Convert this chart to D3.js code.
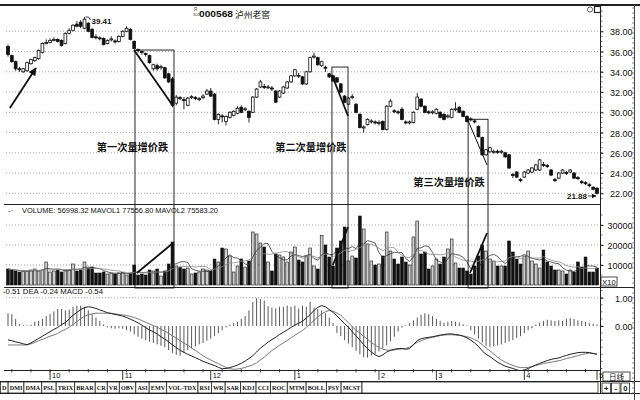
<!DOCTYPE html>
<html><head><meta charset="utf-8">
<script src="https://cdn.jsdelivr.net/npm/d3@7"></script>
<style>html,body{margin:0;padding:0;background:#fff;}svg{display:block;}</style>
</head><body>
<svg id="c" width="640" height="400"></svg>
<script>
// ---------- data ----------
const opens = [36.5,35.6,35.0,34.3,34.0,34.1,34.8,35.1,35.3,35.9,36.8,36.9,37.1,37.2,37.1,36.8,37.8,38.1,38.7,38.9,
38.3,38.8,38.2,37.45,37.35,37.3,36.8,37.15,37.05,37.0,37.5,38.0,38.2,37.0,36.2,36.0,35.8,35.6,34.3,34.6,
34.4,34.4,33.8,33.3,30.9,31.45,31.25,30.7,31.45,31.45,31.25,31.45,31.8,32.1,31.8,29.3,29.65,29.1,29.5,29.7,
29.9,30.5,30.25,30.1,30.0,31.5,32.5,32.55,32.45,32.4,32.1,31.5,31.9,32.4,33.0,33.6,33.65,33.5,32.8,34.0,
35.45,35.4,34.6,34.45,33.8,33.6,33.4,32.8,31.6,30.8,31.45,30.8,29.8,28.45,28.8,29.05,29.05,28.9,29.1,28.3,
30.6,30.15,30.05,30.3,29.05,28.95,29.0,30.3,31.3,30.6,30.05,29.95,29.9,30.0,29.8,29.55,29.5,30.25,30.5,30.1,
29.6,29.35,29.15,28.6,27.5,25.8,26.1,26.05,26.15,26.05,26.0,25.8,23.85,24.1,23.35,23.6,24.0,24.1,24.3,24.3,
24.85,24.75,24.3,23.35,23.5,24.0,24.05,24.1,24.0,23.55,23.15,23.05,22.85,22.6,22.5];
const closes = [35.7,35.0,34.3,34.2,34.3,34.9,35.2,35.4,36.1,36.8,36.9,37.1,37.2,37.0,36.6,37.8,38.1,38.6,38.5,38.5,
39.2,38.0,37.4,37.4,37.3,36.7,37.1,37.25,36.95,37.5,38.0,38.3,37.2,36.3,36.1,35.9,35.7,34.9,34.7,34.3,
34.5,33.4,33.0,30.7,31.5,31.35,31.15,31.4,31.55,31.35,31.35,31.6,32.1,31.6,29.3,29.8,29.55,29.6,30.0,30.1,
30.4,30.0,30.35,29.5,31.5,32.3,33.0,32.45,32.5,32.3,31.0,32.1,32.5,33.0,33.6,34.2,33.6,32.8,34.0,35.4,
35.55,34.7,35.0,34.35,33.5,33.1,33.0,32.0,31.0,31.4,31.55,30.0,28.5,28.55,29.3,29.15,28.95,29.0,28.3,30.6,
31.1,30.05,29.95,29.3,28.95,29.05,30.0,31.5,30.6,30.0,29.95,30.05,30.3,29.5,29.3,29.65,30.3,30.35,30.0,29.6,
29.1,29.25,29.05,27.6,25.8,26.3,26.5,26.15,26.05,26.15,25.6,24.5,23.75,23.6,23.25,24.1,24.3,24.5,24.8,25.3,
24.75,24.65,23.8,23.25,24.0,24.3,23.95,24.3,23.5,23.45,23.05,22.95,22.75,22.4,22.0];
const highs = [36.7,35.7,35.1,34.5,34.4,35.0,35.3,35.5,36.2,36.9,37.2,37.3,37.4,37.3,37.2,37.9,38.3,38.7,39.0,39.1,
39.41,38.9,38.3,37.7,37.5,37.4,37.2,37.5,37.2,37.6,38.1,38.5,38.3,37.1,36.3,36.1,35.9,35.7,34.8,34.8,
34.7,34.5,33.9,33.5,31.7,31.6,31.5,31.5,31.7,31.6,31.5,31.8,32.3,32.4,31.9,29.9,29.8,29.7,30.1,30.2,
30.6,30.7,30.5,30.2,31.6,32.4,33.2,32.8,32.7,32.6,32.2,32.2,32.6,33.1,33.7,34.3,33.9,33.6,34.1,35.5,
35.9,35.5,35.1,34.6,33.9,33.7,33.5,32.9,31.7,31.5,31.8,30.9,29.9,28.7,29.4,29.3,29.2,29.2,29.2,30.7,
31.3,30.3,30.2,30.5,29.2,29.2,30.1,31.9,31.4,30.7,30.2,30.2,30.4,30.1,29.9,29.8,30.4,31.0,30.6,30.2,
29.7,29.5,29.3,28.7,27.6,26.4,26.6,26.3,26.3,26.3,26.1,25.9,24.0,24.2,23.5,24.2,24.4,24.6,24.9,25.4,
25.1,24.9,24.4,23.5,24.1,24.4,24.2,24.4,24.1,23.7,23.3,23.2,23.0,22.7,22.6];
const lows = [35.5,34.9,34.1,34.0,33.9,34.0,34.7,35.0,35.2,35.8,36.7,36.8,37.0,36.9,36.5,36.7,37.7,38.0,38.4,38.3,
38.2,37.9,37.3,37.2,37.1,36.6,36.7,37.0,36.8,36.9,37.4,37.9,37.1,36.2,35.9,35.7,35.5,34.8,34.1,34.1,
34.2,33.3,32.9,30.5,30.7,31.2,30.3,30.6,31.3,31.2,31.1,31.3,31.7,31.5,29.2,28.8,29.0,28.7,29.4,29.6,
29.8,29.9,30.1,29.0,29.9,31.4,32.4,32.3,32.3,32.1,30.9,31.4,31.8,32.3,32.9,33.5,33.4,32.7,32.7,33.9,
35.3,34.6,34.5,34.0,33.4,33.0,32.9,31.9,30.9,30.7,31.3,29.9,28.4,28.0,28.7,28.9,28.8,28.7,28.2,28.2,
30.5,29.9,29.8,29.2,28.8,28.8,28.9,30.2,30.5,29.9,29.8,29.8,29.8,29.4,29.2,29.4,29.4,30.1,29.9,29.5,
29.0,29.1,28.9,27.5,25.7,25.7,26.0,25.9,25.9,25.9,25.5,24.4,23.5,23.5,23.1,23.5,23.9,24.0,24.2,24.2,
24.6,24.5,23.7,23.1,23.4,23.9,23.8,24.0,23.4,23.3,22.9,22.8,22.6,22.3,21.88];
const volumes = [8000,7500,7000,6500,6800,7000,7500,8000,7000,7500,11500,6500,7000,7500,6500,7500,7600,10500,7000,7500,
11500,8500,9000,6000,6000,6500,5500,6000,5500,6000,6300,5000,6000,10000,5000,5500,5000,7500,7000,8000,
4500,7000,10500,21500,9500,9000,8000,8500,5500,6000,6500,8000,7500,7000,13000,11500,18500,18000,14500,6500,
9500,13000,9000,12000,26500,25500,21000,19000,11500,7000,15500,15000,14000,11500,16500,19000,12500,11500,14500,18500,
9500,8000,24700,20000,14000,9500,18500,22000,29000,12000,14500,13500,34500,28000,20500,12000,10000,10500,14500,26500,
17000,13000,10500,14000,11500,10000,24000,32000,15500,16500,8000,9500,13000,10500,14000,18000,23000,11000,8500,8500,
7000,5500,9500,14500,20000,17000,13000,12000,9500,9500,9500,22000,16500,13000,10500,14500,17000,12000,10500,8500,
17500,11500,9500,7500,7500,7000,5500,7500,6500,11500,9000,14000,6500,6500,8500];
const difValues = [-0.49,-0.52,-0.56,-0.59,-0.63,-0.66,-0.6,-0.52,-0.44,-0.36,
-0.28,-0.2,-0.12,-0.05,0.05,0.12,0.25,0.38,0.48,0.58,
0.65,0.68,0.66,0.62,0.57,0.52,0.47,0.44,0.41,0.38,
0.35,0.3,0.24,0.18,0.11,0.03,-0.06,-0.14,-0.2,-0.28,
-0.38,-0.46,-0.56,-0.67,-0.76,-0.86,-0.93,-1.0,-1.06,-1.12,
-1.18,-1.25,-1.3,-1.35,-1.4,-1.46,-1.51,-1.5,-1.47,-1.43,
-1.38,-1.32,-1.24,-1.15,-1.05,-0.92,-0.78,-0.68,-0.57,-0.48,
-0.4,-0.3,-0.22,-0.14,-0.05,0.03,0.1,0.17,0.28,0.4,
0.55,0.66,0.72,0.68,0.58,0.48,0.36,0.22,0.08,-0.04,
-0.2,-0.35,-0.5,-0.66,-0.8,-0.92,-1.02,-1.08,-1.02,-0.92,
-0.86,-0.82,-0.8,-0.8,-0.82,-0.8,-0.66,-0.52,-0.45,-0.42,
-0.4,-0.38,-0.35,-0.32,-0.3,-0.28,-0.28,-0.3,-0.32,-0.36,
-0.42,-0.5,-0.6,-0.72,-0.88,-1.0,-1.08,-1.18,-1.28,-1.35,
-1.42,-1.46,-1.5,-1.55,-1.58,-1.55,-1.5,-1.44,-1.38,-1.32,
-1.27,-1.22,-1.18,-1.15,-1.13,-1.08,-1.04,-1.0,-0.97,-0.94,
-0.93,-0.93,-0.94,-0.97,-1.0];
const deaValues = [-0.67,-0.67,-0.67,-0.67,-0.67,-0.67,-0.63,-0.58,-0.52,-0.47,
-0.42,-0.36,-0.32,-0.26,-0.18,-0.12,-0.04,0.06,0.15,0.26,
0.34,0.4,0.43,0.45,0.45,0.45,0.45,0.45,0.43,0.41,
0.39,0.37,0.34,0.3,0.25,0.19,0.13,0.07,0.02,-0.04,
-0.12,-0.18,-0.26,-0.35,-0.43,-0.52,-0.6,-0.68,-0.78,-0.86,
-0.96,-1.05,-1.13,-1.2,-1.27,-1.33,-1.4,-1.46,-1.51,-1.53,
-1.52,-1.5,-1.46,-1.42,-1.37,-1.3,-1.2,-1.1,-0.98,-0.87,
-0.78,-0.68,-0.6,-0.51,-0.42,-0.33,-0.24,-0.16,-0.05,0.07,
0.2,0.32,0.42,0.5,0.55,0.52,0.46,0.38,0.25,0.12,
-0.02,-0.16,-0.25,-0.36,-0.47,-0.58,-0.68,-0.76,-0.82,-0.85,
-0.86,-0.85,-0.82,-0.8,-0.79,-0.75,-0.66,-0.58,-0.52,-0.47,
-0.43,-0.4,-0.37,-0.34,-0.32,-0.31,-0.31,-0.32,-0.33,-0.35,
-0.38,-0.42,-0.48,-0.55,-0.66,-0.78,-0.88,-0.99,-1.1,-1.2,
-1.28,-1.34,-1.39,-1.44,-1.47,-1.47,-1.46,-1.43,-1.39,-1.36,
-1.33,-1.3,-1.28,-1.25,-1.23,-1.19,-1.15,-1.12,-1.08,-1.05,
-1.01,-0.98,-0.96,-0.97,-1.0];
const macdBars = [0.45,0.42,0.25,0.06,0.03,0.02,0.05,0.15,0.18,0.25,
0.35,0.42,0.52,0.6,0.6,0.55,0.58,0.68,0.72,0.72,
0.66,0.55,0.42,0.3,0.18,0.06,-0.05,-0.08,-0.1,-0.08,
-0.1,-0.15,-0.2,-0.3,-0.38,-0.45,-0.5,-0.55,-0.6,-0.65,
-0.7,-0.75,-0.85,-0.95,-1.02,-1.05,-0.95,-0.85,-0.78,-0.72,
-0.65,-0.6,-0.52,-0.45,-0.35,-0.25,-0.15,-0.05,0.05,0.1,
0.15,0.25,0.35,0.55,0.85,0.98,0.95,0.9,0.7,0.65,
0.62,0.68,0.68,0.72,0.68,0.72,0.62,0.72,0.68,0.85,
0.65,0.6,0.55,0.45,0.3,0.1,-0.25,-0.36,-0.5,-0.62,
-0.75,-0.88,-1.0,-1.1,-1.12,-1.05,-1.0,-0.9,-0.8,-0.68,
-0.55,-0.38,-0.2,-0.06,0.03,0.1,0.2,0.3,0.4,0.45,
0.42,0.35,0.25,0.18,0.12,0.15,0.18,0.15,0.12,0.06,
0.02,-0.15,-0.3,-0.45,-0.58,-0.7,-0.75,-0.72,-0.68,-0.65,
-0.6,-0.55,-0.5,-0.42,-0.36,-0.25,-0.15,-0.08,0.05,0.12,
0.18,0.22,0.2,0.18,0.2,0.18,0.25,0.27,0.25,0.2,
0.18,0.15,0.1,0.08,0.05];
const priceTicks = [22,24,26,28,30,32,34,36,38];
const volumeTicks = [10000,20000,30000];
const macdTicks = [0,1];
const monthIndex = [11,30,53,75,97,112,135,154];
const monthLabels = ["10","11","12","1","2","3","4","5"];
const indicatorButtons = ["D","DMI","DMA","PSL","TRIX","BRAR","CR","VR","OBV","ASI","EMV","VOL-TDX","RSI","WR","SAR","KDJ","CCI","ROC","MTM","BOLL","PSY","MCST"];
const stockCode = "000568";
const stockName = "泸州老窖";
const volumeLegend = "VOLUME: 56998.32  MAVOL1  77556.80  MAVOL2  75583.20";
const macdLegend = "-0.51 DEA -0.24 MACD -0.54";
// annotation anchors (candle index, price / volume)
const surgeBoxIdx = [[33.2,43.4],[84.7,88.9],[120.3,125.5]];
const surgeBoxTop = [36.15,34.47,29.31];
const dropLineIdx = [[32.95,43.15],[84.7,88.9],[120.0,125.25]];
const dropLinePrice = [[36.15,30.62],[33.68,29.63],[29.43,24.79]];
const volLineIdx = [[33.7,43.15],[84.95,88.9],[120.8,125.25]];
const volLineValue = [[6000,21000],[10000,29000],[6000,26000]];
const surgeLabels = ["第一次量增价跌","第二次量增价跌","第三次量增价跌"];
const surgeLabelIdx = [32.55,79.2,115.3];
const surgeLabelPrice = [26.56,26.56,23.1];
const arrowIdx = [0.5,7.3];
const arrowPrice = [30.42,34.37];

// ---------- drawing ----------
const svg = d3.select("#c");
const N = closes.length;
const ink = "#111";
const numFont = "'Liberation Sans', Arial, sans-serif";
const x = d3.scaleLinear().domain([0, N-1]).range([8, 597]);
const yP = d3.scaleLinear().domain([22,38]).range([193.3,31.3]);
const yV = d3.scaleLinear().domain([0,30000]).range([285,225]);
const yM = d3.scaleLinear().domain([0,1]).range([326,297.7]);
const bw = 2.8;

const defs = svg.append("defs");
defs.append("clipPath").attr("id","cp").append("rect").attr("x",3).attr("y",6).attr("width",597).attr("height",198);
defs.append("clipPath").attr("id","cv").append("rect").attr("x",3).attr("y",205).attr("width",597).attr("height",82);
defs.append("clipPath").attr("id","cm").append("rect").attr("x",3).attr("y",288).attr("width",597).attr("height",82);
defs.append("marker").attr("id","ah").attr("viewBox","0 0 10 10").attr("refX",9).attr("refY",5)
  .attr("markerWidth",9).attr("markerHeight",8).attr("markerUnits","userSpaceOnUse").attr("orient","auto")
  .append("path").attr("d","M0,0L10,5L0,10z").attr("fill",ink);
defs.append("marker").attr("id","ah2").attr("viewBox","0 0 10 10").attr("refX",9).attr("refY",5)
  .attr("markerWidth",5).attr("markerHeight",5).attr("markerUnits","userSpaceOnUse").attr("orient","auto")
  .append("path").attr("d","M0,0L10,5L0,10z").attr("fill",ink);

// frame lines
const frame = svg.append("g").attr("stroke","#222").attr("fill","none");
frame.append("line").attr("x1",0).attr("x2",640).attr("y1",5).attr("y2",5).attr("stroke-width",2);
frame.append("line").attr("x1",4).attr("x2",600).attr("y1",204.5).attr("y2",204.5);
frame.append("line").attr("x1",4).attr("x2",634).attr("y1",287.5).attr("y2",287.5);
frame.append("line").attr("x1",4).attr("x2",600).attr("y1",370.5).attr("y2",370.5);
frame.append("line").attr("x1",0).attr("x2",640).attr("y1",381.5).attr("y2",381.5);
frame.append("line").attr("x1",0).attr("x2",640).attr("y1",393.5).attr("y2",393.5);
frame.append("line").attr("x1",600.5).attr("x2",600.5).attr("y1",5).attr("y2",394);
frame.append("line").attr("x1",634.5).attr("x2",634.5).attr("y1",5).attr("y2",400).attr("stroke","#444");
frame.selectAll("line.rt").data(d3.range(8,398,5)).join("line").attr("class","rt")
  .attr("x1",632).attr("x2",634.5).attr("y1",d=>d).attr("y2",d=>d).attr("stroke","#555").attr("stroke-width",0.7);

// grids
const grid = svg.append("g").attr("stroke","#8a8a8a").attr("stroke-width",0.8).attr("stroke-dasharray","1,2");
grid.selectAll("line.gp").data(priceTicks).join("line").attr("class","gp")
  .attr("x1",6).attr("x2",598).attr("y1",d=>yP(d)).attr("y2",d=>yP(d));
grid.selectAll("line.gv").data(volumeTicks).join("line").attr("class","gv")
  .attr("x1",6).attr("x2",598).attr("y1",d=>yV(d)).attr("y2",d=>yV(d));
grid.selectAll("line.gm").data(macdTicks.filter(d=>d>0)).join("line").attr("class","gm")
  .attr("x1",6).attr("x2",598).attr("y1",d=>yM(d)).attr("y2",d=>yM(d));

// right axes
function styleAxis(g){
  g.select(".domain").remove();
  g.selectAll(".tick line").attr("stroke","#222");
  g.selectAll("text").attr("x",32).attr("text-anchor","end").attr("dy","0.4em")
    .attr("font-family",numFont).attr("font-size",9).attr("fill",ink);
}
svg.append("g").attr("transform","translate(600.5,0)")
  .call(d3.axisRight(yP).tickValues(priceTicks).tickFormat(d3.format(".2f")).tickSize(3)).call(styleAxis);
svg.append("g").attr("transform","translate(600.5,0)")
  .call(d3.axisRight(yV).tickValues(volumeTicks).tickFormat(d3.format("d")).tickSize(3)).call(styleAxis);
svg.append("g").attr("transform","translate(600.5,0)")
  .call(d3.axisRight(yM).tickValues(macdTicks).tickFormat(d3.format(".2f")).tickSize(3)).call(styleAxis);
const minor = svg.append("g").attr("stroke","#333").attr("stroke-width",0.7);
minor.selectAll("line.mp").data(d3.range(20.5,40.5,0.5).filter(v=>yP(v)>8&&yP(v)<202)).join("line").attr("class","mp")
  .attr("x1",600.5).attr("x2",602.5).attr("y1",d=>yP(d)).attr("y2",d=>yP(d));
minor.selectAll("line.mv").data(d3.range(0,36000,5000).filter(v=>yV(v)>208)).join("line").attr("class","mv")
  .attr("x1",600.5).attr("x2",602.5).attr("y1",d=>yV(d)).attr("y2",d=>yV(d));
minor.selectAll("line.mm").data(d3.range(-1.5,1.3,0.25).filter(v=>yM(v)>290&&yM(v)<369)).join("line").attr("class","mm")
  .attr("x1",600.5).attr("x2",602.5).attr("y1",d=>yM(d)).attr("y2",d=>yM(d));
// X10 box
svg.append("rect").attr("x",601).attr("y",277).attr("width",16).attr("height",9).attr("fill","#fff").attr("stroke","#222").attr("stroke-width",0.8);
svg.append("text").attr("x",609).attr("y",284.5).attr("text-anchor","middle").attr("font-family",numFont).attr("font-size",7.5).attr("fill",ink).text("X10");

// candles
const gC = svg.append("g").attr("clip-path","url(#cp)");
const idx = d3.range(N);
gC.selectAll("line.wick").data(idx).join("line").attr("class","wick")
  .attr("x1",i=>x(i)).attr("x2",i=>x(i)).attr("y1",i=>yP(highs[i])).attr("y2",i=>yP(lows[i]))
  .attr("stroke",ink).attr("stroke-width",0.9);
gC.selectAll("rect.body").data(idx).join("rect").attr("class","body")
  .attr("x",i=>x(i)-bw/2).attr("width",bw)
  .attr("y",i=>yP(Math.max(opens[i],closes[i])))
  .attr("height",i=>Math.max(0.9,Math.abs(yP(opens[i])-yP(closes[i]))))
  .attr("fill",i=>closes[i]>=opens[i]?"#fff":ink)
  .attr("stroke",ink).attr("stroke-width",0.8);

// high / low labels
const hiI = d3.maxIndex(highs), loI = d3.minIndex(lows);
svg.append("path").attr("d",`M${x(hiI)+1},${yP(highs[hiI])}L${x(hiI)+4},${yP(highs[hiI])}L${x(hiI)+6},${yP(highs[hiI])+3}`)
  .attr("fill","none").attr("stroke",ink).attr("stroke-width",0.8);
svg.append("text").attr("x",x(hiI)+7).attr("y",yP(highs[hiI])+7).attr("font-family",numFont).attr("font-size",8)
  .attr("font-weight","bold").attr("fill",ink).text(d3.format(".2f")(highs[hiI]));
svg.append("line").attr("x1",x(loI)-9).attr("x2",x(loI)-1).attr("y1",yP(lows[loI])+1.5).attr("y2",yP(lows[loI])+1.5)
  .attr("stroke",ink).attr("stroke-width",0.8).attr("marker-end","url(#ah2)");
svg.append("text").attr("x",x(loI)-10).attr("y",yP(lows[loI])+4.5).attr("text-anchor","end").attr("font-family",numFont)
  .attr("font-size",8).attr("font-weight","bold").attr("fill",ink).text(d3.format(".2f")(lows[loI]));

// volume bars
const gV = svg.append("g").attr("clip-path","url(#cv)");
gV.selectAll("rect.vol").data(idx).join("rect").attr("class","vol")
  .attr("x",i=>x(i)-bw/2).attr("width",bw).attr("y",i=>yV(volumes[i])).attr("height",i=>yV(0)-yV(volumes[i]))
  .attr("fill",i=>closes[i]>=opens[i]?"#cfcfcf":ink).attr("stroke",ink).attr("stroke-width",0.6);
const movingAverage = (arr,n)=>arr.map((_,i)=>d3.mean(arr.slice(Math.max(0,i-n+1),i+1)));
const vLine = d3.line().x((d,i)=>x(i)).y(d=>yV(d));
gV.append("path").attr("d",vLine(movingAverage(volumes,5))).attr("fill","none").attr("stroke","#333").attr("stroke-width",0.8);
gV.append("path").attr("d",vLine(movingAverage(volumes,10))).attr("fill","none").attr("stroke","#8a8a8a").attr("stroke-width",0.8);

// MACD
const gM = svg.append("g").attr("clip-path","url(#cm)");
gM.selectAll("line.hb").data(idx).join("line").attr("class","hb")
  .attr("x1",i=>x(i)).attr("x2",i=>x(i)).attr("y1",yM(0)).attr("y2",i=>yM(macdBars[i]))
  .attr("stroke","#3a3a3a").attr("stroke-width",0.85);
const mLine = d3.line().x((d,i)=>x(i)).y(d=>yM(d));
gM.append("path").attr("d",mLine(deaValues)).attr("fill","none").attr("stroke","#7a7a7a").attr("stroke-width",1);
gM.append("path").attr("d",mLine(difValues)).attr("fill","none").attr("stroke","#222").attr("stroke-width",1);

// date axis
const gD = svg.append("g");
gD.selectAll("line.wk").data(d3.range(1,N,5)).join("line").attr("class","wk")
  .attr("x1",i=>x(i)).attr("x2",i=>x(i)).attr("y1",369).attr("y2",372.5).attr("stroke","#222").attr("stroke-width",0.8);
gD.selectAll("line.mo").data(monthIndex).join("line").attr("class","mo")
  .attr("x1",i=>x(i)).attr("x2",i=>x(i)).attr("y1",370.5).attr("y2",380).attr("stroke","#222").attr("stroke-width",0.9);
gD.selectAll("text.mo").data(monthIndex).join("text").attr("class","mo")
  .attr("x",i=>x(i)+2).attr("y",378).attr("font-family",numFont).attr("font-size",7.5).attr("fill",ink)
  .text((d,k)=>monthLabels[k]);
// right-bottom period box
svg.append("rect").attr("x",603).attr("y",372).attr("width",27).attr("height",9).attr("fill","#fff").attr("stroke","#222").attr("stroke-width",0.8);
svg.append("text").attr("x",616.5).attr("y",379.5).attr("text-anchor","middle").attr("font-family","'Noto Sans CJK SC'").attr("font-size",7.5).attr("fill",ink).text("日线");

// legends / titles
svg.append("text").attr("x",8).attr("y",213).attr("font-family",numFont).attr("font-size",8).attr("fill",ink).text("-·");
svg.append("text").attr("x",22).attr("y",213).attr("font-family",numFont).attr("font-size",8).attr("fill",ink)
  .attr("textLength",196).attr("lengthAdjust","spacingAndGlyphs").text(volumeLegend);
svg.append("text").attr("x",3).attr("y",294).attr("font-family",numFont).attr("font-size",8).attr("fill",ink)
  .attr("textLength",100).attr("lengthAdjust","spacingAndGlyphs").text(macdLegend);
svg.append("text").attr("x",194).attr("y",11).attr("font-family",numFont).attr("font-size",4.5).attr("fill","#444").text("R");
svg.append("text").attr("x",193).attr("y",16).attr("font-family",numFont).attr("font-size",3.8).attr("fill","#444").text("300");
svg.append("text").attr("x",199).attr("y",17).attr("font-family",numFont).attr("font-size",8.5).attr("font-weight","bold").attr("fill",ink)
  .attr("textLength",34).attr("lengthAdjust","spacingAndGlyphs").text(stockCode);
svg.append("text").attr("x",235).attr("y",17.5).attr("font-family","'Noto Sans CJK SC'").attr("font-size",8.8).attr("fill",ink)
  .attr("textLength",35).attr("lengthAdjust","spacingAndGlyphs").text(stockName);
svg.append("circle").attr("cx",590).attr("cy",9.5).attr("r",2.6).attr("fill","none").attr("stroke","#333").attr("stroke-width",0.8);
svg.append("rect").attr("x",594.5).attr("y",6.5).attr("width",6).attr("height",6).attr("fill","#fff").attr("stroke","#222").attr("stroke-width",1.2);

// annotations
const ann = svg.append("g").attr("fill","none").attr("stroke",ink);
ann.selectAll("rect.box").data(d3.range(3)).join("rect").attr("class","box")
  .attr("x",k=>x(surgeBoxIdx[k][0])).attr("width",k=>x(surgeBoxIdx[k][1])-x(surgeBoxIdx[k][0]))
  .attr("y",k=>yP(surgeBoxTop[k])).attr("height",k=>yV(-1500)-yP(surgeBoxTop[k]))
  .attr("stroke-width",0.9);
ann.selectAll("line.drop").data(d3.range(3)).join("line").attr("class","drop")
  .attr("x1",k=>x(dropLineIdx[k][0])).attr("x2",k=>x(dropLineIdx[k][1]))
  .attr("y1",k=>yP(dropLinePrice[k][0])).attr("y2",k=>yP(dropLinePrice[k][1]))
  .attr("stroke-width",k=>k===2?1:1.8);
ann.selectAll("line.vup").data(d3.range(3)).join("line").attr("class","vup")
  .attr("x1",k=>x(volLineIdx[k][0])).attr("x2",k=>x(volLineIdx[k][1]))
  .attr("y1",k=>yV(volLineValue[k][0])).attr("y2",k=>yV(volLineValue[k][1]))
  .attr("stroke-width",1.8);
ann.append("line").attr("x1",x(arrowIdx[0])).attr("x2",x(arrowIdx[1])).attr("y1",yP(arrowPrice[0])).attr("y2",yP(arrowPrice[1]))
  .attr("stroke-width",1.8).attr("marker-end","url(#ah)");
svg.selectAll("text.surge").data(d3.range(3)).join("text").attr("class","surge")
  .attr("x",k=>x(surgeLabelIdx[k])).attr("y",k=>yP(surgeLabelPrice[k])+4)
  .attr("text-anchor","middle").attr("font-family","'Noto Sans CJK SC'").attr("font-weight","bold")
  .attr("font-size",10.2).attr("fill",ink).text(k=>surgeLabels[k]);

// indicator button bar: measure labels, then fit the row into the reference width
const btn = svg.append("g");
const btnFont = 6.4;
const probe = btn.append("text").attr("font-family","'Liberation Serif', serif").attr("font-weight","bold").attr("font-size",btnFont);
const natural = indicatorButtons.map(l=>{ probe.text(l); return probe.node().getComputedTextLength(); });
probe.remove();
const rowEnd = 362, rowStart = 0.5;
const pad = 3.2;
const scaleRow = (rowEnd-rowStart-pad*indicatorButtons.length)/d3.sum(natural);
let bx = rowStart;
indicatorButtons.forEach((label,k)=>{
  const tw = natural[k]*Math.min(1,scaleRow);
  const w = natural[k]*scaleRow + pad;
  btn.append("rect").attr("x",bx).attr("y",382).attr("width",w).attr("height",11).attr("fill","#fff").attr("stroke","#222").attr("stroke-width",0.8);
  const t = btn.append("text").attr("x",bx+w/2).attr("y",390.3).attr("text-anchor","middle")
    .attr("font-family","'Liberation Serif', serif").attr("font-weight","bold").attr("font-size",btnFont).attr("fill",ink).text(label);
  if (scaleRow < 1) t.attr("textLength",tw).attr("lengthAdjust","spacingAndGlyphs");
  bx += w;
});
btn.append("rect").attr("x",bx).attr("y",382).attr("width",598-bx).attr("height",11).attr("fill","#fff").attr("stroke","#222").attr("stroke-width",0.8);
[["+",602],["-",611.5],["0",621]].forEach(([s,bxx])=>{
  btn.append("rect").attr("x",bxx).attr("y",383).attr("width",8.5).attr("height",10).attr("fill","#fff").attr("stroke","#222").attr("stroke-width",0.8);
  btn.append("text").attr("x",bxx+4.25).attr("y",390.5).attr("text-anchor","middle").attr("font-family",numFont).attr("font-weight","bold").attr("font-size",7.5).attr("fill",ink).text(s);
});
</script>
</body></html>
